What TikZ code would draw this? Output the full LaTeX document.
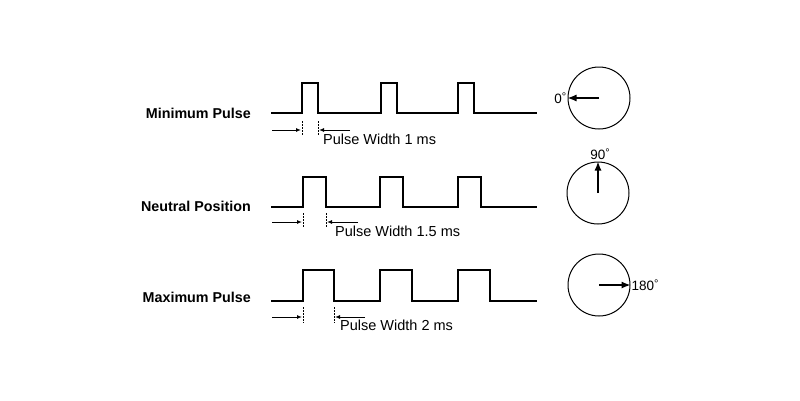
\documentclass[tikz,border=0pt]{standalone}
\usepackage{fontspec}
\setmainfont{Liberation Sans}
\usetikzlibrary{arrows.meta}
\newcommand{\dg}{\raisebox{3pt}{\fontsize{11}{11}\selectfont °}}
\begin{document}
\begin{tikzpicture}[x=1pt,y=-1pt,
  wave/.style={line width=1.3pt, line join=miter},
  dim/.style={line width=1pt, -{Latex[length=5pt,width=4pt]}},
  guide/.style={line width=0.7pt, dash pattern=on 1.5pt off 1.5pt},
  dial/.style={line width=1pt},
  needle/.style={line width=1.3pt, -{Latex[length=9pt,width=7pt]}},
  lbl/.style={font=\fontsize{14.3}{16}\selectfont\bfseries, inner sep=0pt},
  pw/.style={font=\fontsize{14.5}{16}\selectfont, inner sep=0pt},
  deg/.style={font=\fontsize{13.5}{15}\selectfont, inner sep=0pt}]
\useasboundingbox (0,0) rectangle (800,400);
\fill[white] (0,0) rectangle (800,400);

% ---- Row 1: minimum pulse
\node[lbl, anchor=east] (l1) at (251,113) {Minimum Pulse};
\draw[wave] (271,113) -- (302,113) -- (302,83) -- (318,83) -- (318,113)
  -- (381,113) -- (381,83) -- (397,83) -- (397,113)
  -- (458,113) -- (458,83) -- (474,83) -- (474,113) -- (537,113);
\coordinate (a1s) at (272,130); \coordinate (a1e) at (301,130);
\coordinate (b1s) at (350,130); \coordinate (b1e) at (319,130);
\draw[dim] (a1s) -- (a1e);
\draw[dim] (b1s) -- (b1e);
\draw[guide] (302,121) -- (302,136);
\draw[guide] (318,121) -- (318,136);
\node[pw, anchor=west] (t1) at (323,139) {Pulse Width 1 ms};

% ---- Row 2: neutral position
\node[lbl, anchor=east] (l2) at (251,206) {Neutral Position};
\draw[wave] (271,207) -- (303,207) -- (303,177) -- (326,177) -- (326,207)
  -- (380,207) -- (380,177) -- (403,177) -- (403,207)
  -- (458,207) -- (458,177) -- (481,177) -- (481,207) -- (537,207);
\coordinate (a2s) at (272,222); \coordinate (a2e) at (302,222);
\coordinate (b2s) at (358,222); \coordinate (b2e) at (327,222);
\draw[dim] (a2s) -- (a2e);
\draw[dim] (b2s) -- (b2e);
\draw[guide] (303,213) -- (303,228);
\draw[guide] (326,213) -- (326,228);
\node[pw, anchor=west] (t2) at (335,231) {Pulse Width 1.5 ms};

% ---- Row 3: maximum pulse
\node[lbl, anchor=east] (l3) at (251,297) {Maximum Pulse};
\draw[wave] (271,301) -- (303,301) -- (303,270) -- (334,270) -- (334,301)
  -- (380,301) -- (380,270) -- (412,270) -- (412,301)
  -- (458,301) -- (458,270) -- (490,270) -- (490,301) -- (537,301);
\coordinate (a3s) at (272,317); \coordinate (a3e) at (302,317);
\coordinate (b3s) at (365,317); \coordinate (b3e) at (335,317);
\draw[dim] (a3s) -- (a3e);
\draw[dim] (b3s) -- (b3e);
\draw[guide] (303,307) -- (303,323);
\draw[guide] (334,307) -- (334,323);
\node[pw, anchor=west] (t3) at (340,325) {Pulse Width 2 ms};

% ---- Dials
\node[dial, draw, circle, minimum size=62pt, inner sep=0pt] (c1) at (599,98) {};
\draw[needle] (c1.center) -- (c1.west);
\node[deg, anchor=east] (d1) at ([xshift=-1pt]c1.west) {0\dg};

\node[dial, draw, circle, minimum size=62pt, inner sep=0pt] (c2) at (598,193) {};
\draw[needle] (c2.center) -- (c2.north);
\node[deg, anchor=south] (d2) at ([xshift=2pt,yshift=2pt]c2.north) {90\dg};

\node[dial, draw, circle, minimum size=62pt, inner sep=0pt] (c3) at (599,285) {};
\draw[needle] (c3.center) -- (c3.east);
\node[deg, anchor=west] (d3) at ([xshift=1pt]c3.east) {180\dg};
\end{tikzpicture}
\end{document}
